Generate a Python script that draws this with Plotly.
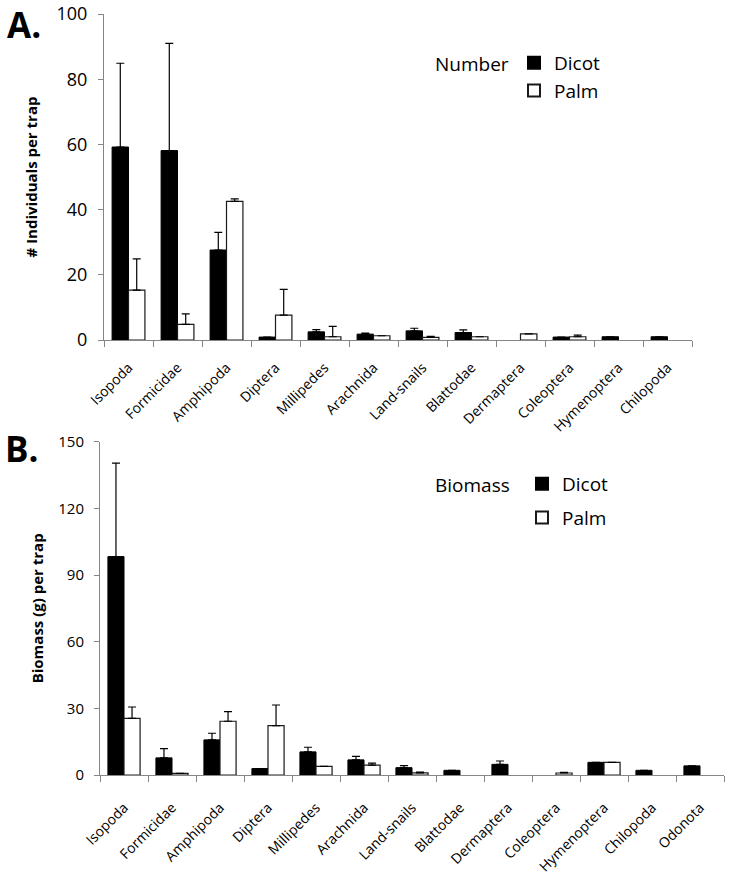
import plotly.graph_objects as go

# ---------------- data ----------------
cats_a = ["Isopoda", "Formicidae", "Amphipoda", "Diptera", "Millipedes", "Arachnida",
          "Land-snails", "Blattodae", "Dermaptera", "Coleoptera", "Hymenoptera", "Chilopoda"]
num_dicot = [59.2, 58.1, 27.6, 0.9, 2.5, 1.8, 2.8, 2.3, None, 0.9, 1.0, 1.0]
num_dicot_err = [25.7, 32.9, 5.4, None, 0.7, 0.3, 0.8, 0.8, None, None, None, None]
num_palm = [15.3, 4.8, 42.5, 7.6, 1.0, 1.3, 0.8, 1.0, 1.9, 1.0, None, None]
num_palm_err = [9.6, 3.2, 0.8, 7.9, 3.2, None, 0.3, None, None, 0.5, None, None]

cats_b = ["Isopoda", "Formicidae", "Amphipoda", "Diptera", "Millipedes", "Arachnida",
          "Land-snails", "Blattodae", "Dermaptera", "Coleoptera", "Hymenoptera", "Chilopoda",
          "Odonota"]
bio_dicot = [98.3, 7.7, 15.8, 2.9, 10.4, 6.8, 3.3, 2.1, 4.8, None, 5.7, 2.1, 4.1]
bio_dicot_err = [42.1, 4.2, 3.0, None, 2.1, 1.6, 0.9, None, 1.5, None, None, None, None]
bio_palm = [25.5, 0.7, 24.2, 22.2, 3.9, 4.4, 1.0, None, None, 0.9, 5.7, None, None]
bio_palm_err = [5.1, None, 4.3, 9.3, None, 0.9, 0.3, None, None, 0.3, None, None, None]

ticks_a = [0, 20, 40, 60, 80, 100]
ticks_b = [0, 30, 60, 90, 120, 150]

FONT = "Open Sans"
AXIS_GREY = "#868686"
W, H = 730, 883


def zeros(arr):
    return [0 if v is not None else None for v in arr]


def err(arr):
    return dict(type="data", symmetric=False, array=arr, arrayminus=zeros(arr),
                color="black", thickness=1.2, width=4)


fig = go.Figure()

# Panel A
fig.add_trace(go.Bar(x=cats_a, y=num_dicot, name="Dicot", marker=dict(color="black", line=dict(color="black", width=1)),
                     error_y=err(num_dicot_err), xaxis="x", yaxis="y", legend="legend"))
fig.add_trace(go.Bar(x=cats_a, y=num_palm, name="Palm", marker=dict(color="white", line=dict(color="#1a1a1a", width=1.2)),
                     error_y=err(num_palm_err), xaxis="x", yaxis="y", legend="legend"))
# Panel B
fig.add_trace(go.Bar(x=cats_b, y=bio_dicot, name="Dicot", marker=dict(color="black", line=dict(color="black", width=1)),
                     error_y=err(bio_dicot_err), xaxis="x2", yaxis="y2", legend="legend2", legendgroup="d"))
fig.add_trace(go.Bar(x=cats_b, y=bio_palm, name="Palm", marker=dict(color="white", line=dict(color="#1a1a1a", width=1.2)),
                     error_y=err(bio_palm_err), xaxis="x2", yaxis="y2", legend="legend2", legendgroup="p"))


def px_x(p):
    return p / W


def px_y(p):
    return 1 - p / H


xcommon = dict(type="category", showline=True, linecolor=AXIS_GREY, linewidth=1, ticks="outside",
               tickson="boundaries", ticklen=6, tickcolor=AXIS_GREY, tickangle=-45,
               tickfont=dict(family=FONT, size=14, color="black"), showgrid=False, zeroline=False,
               fixedrange=True, automargin=False)
ycommon = dict(showline=True, linecolor=AXIS_GREY, linewidth=1, ticks="outside", ticklen=5,
               tickcolor=AXIS_GREY, showgrid=False, zeroline=False, fixedrange=True, automargin=False)

fig.update_layout(
    width=W, height=H, autosize=False,
    margin=dict(l=0, r=0, t=0, b=0, pad=0, autoexpand=False),
    paper_bgcolor="white", plot_bgcolor="white",
    font=dict(family=FONT, color="black"),
    barmode="group", bargap=0.33, bargroupgap=0,
    xaxis=dict(xcommon, domain=[px_x(104), px_x(692)], anchor="y", range=[-0.5, len(cats_a) - 0.5],
               ticklabelstandoff=13),
    yaxis=dict(ycommon, domain=[px_y(340), px_y(14)], anchor="x", range=[0, 100],
               tickvals=ticks_a, ticktext=[str(t) for t in ticks_a], ticklabelstandoff=7,
               tickfont=dict(family=FONT, size=18, color="black"),
               title=dict(text="<b># Individuals per trap</b>", font=dict(family=FONT, size=15, color="black"),
                          standoff=15)),
    xaxis2=dict(xcommon, domain=[px_x(100), px_x(724)], anchor="y2", range=[-0.5, len(cats_b) - 0.5],
                ticklabelstandoff=18),
    yaxis2=dict(ycommon, domain=[px_y(775), px_y(441.7)], anchor="x2", range=[0, 150],
                tickvals=ticks_b, ticktext=[str(t) for t in ticks_b], ticklabelstandoff=7,
                tickfont=dict(family=FONT, size=15, color="black"),
                title=dict(text="<b>Biomass (g) per trap</b>", font=dict(family=FONT, size=15, color="black"),
                           standoff=11)),
    legend=dict(x=px_x(514), y=px_y(44), xanchor="left", yanchor="top", bgcolor="rgba(0,0,0,0)",
                font=dict(family=FONT, size=19, color="black"), traceorder="normal", itemsizing="constant"),
    legend2=dict(x=px_x(522), y=px_y(465), xanchor="left", yanchor="top", bgcolor="rgba(0,0,0,0)",
                 font=dict(family=FONT, size=19, color="black"), traceorder="grouped", tracegroupgap=6,
                 itemsizing="constant"),
    showlegend=True,
)

annotations = [
    dict(text="<b>A.</b>", x=px_x(6), y=1.0, xref="paper", yref="paper", xanchor="left", yanchor="top",
         borderpad=0, showarrow=False, font=dict(family=FONT, size=35, color="black")),
    dict(text="<b>B.</b>", x=px_x(4), y=px_y(423.5), xref="paper", yref="paper", xanchor="left", yanchor="top",
         borderpad=0, showarrow=False, font=dict(family=FONT, size=35, color="black")),
    dict(text="Number", x=px_x(433), y=px_y(64), xref="paper", yref="paper", xanchor="left", yanchor="middle",
         showarrow=False, font=dict(family=FONT, size=19, color="black")),
    dict(text="Biomass", x=px_x(433), y=px_y(485), xref="paper", yref="paper", xanchor="left", yanchor="middle",
         showarrow=False, font=dict(family=FONT, size=19, color="black")),
]
fig.update_layout(annotations=annotations)

fig.write_html("out.html", config={"displayModeBar": False},
               post_script="document.body.style.margin='0';document.body.style.overflow='hidden';")
